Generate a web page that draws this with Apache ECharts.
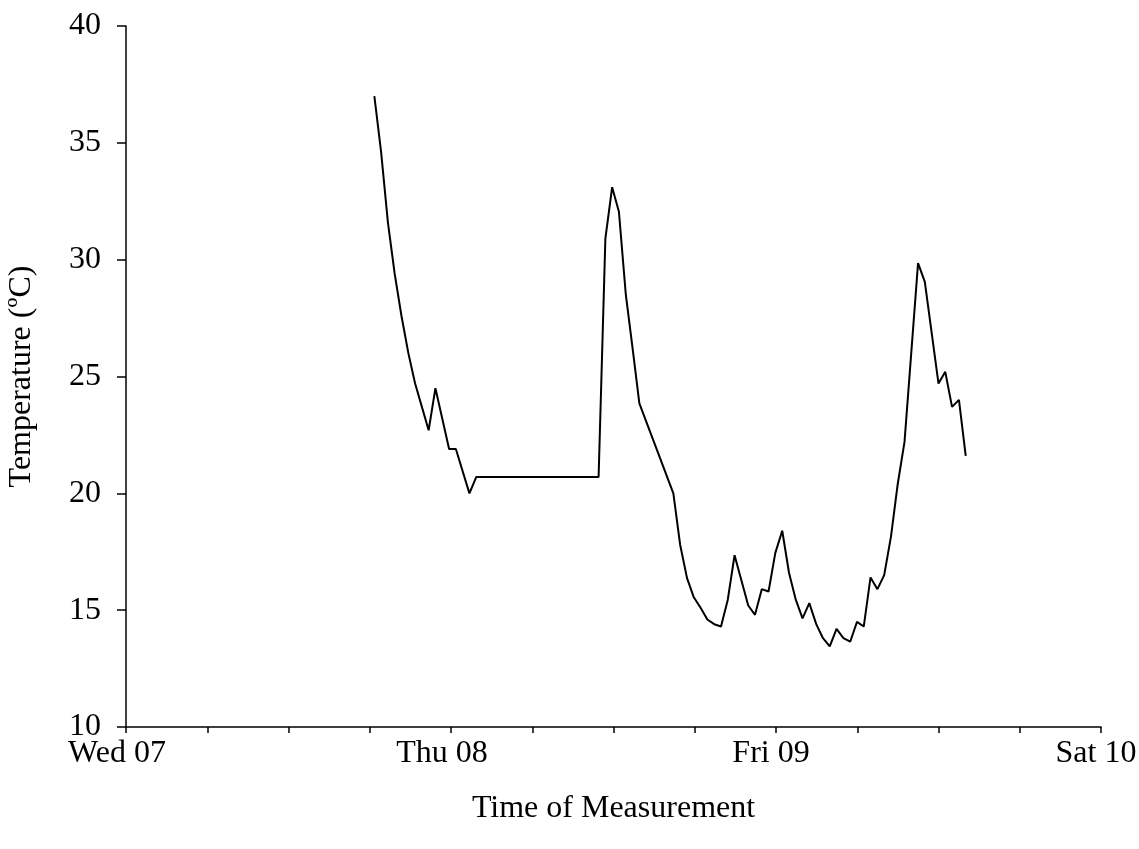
<!DOCTYPE html>
<html>
<head>
<meta charset="utf-8">
<script src="https://cdn.jsdelivr.net/npm/echarts@6/dist/echarts.min.js"></script>
<style>
  html, body { margin: 0; padding: 0; background: #ffffff; }
  #chart { width: 1139px; height: 849px; }
</style>
</head>
<body>
<div id="chart"></div>
<script>
// Measurement times, in hours counted from Wed 07 00:00
const hours = [
  18.34, 18.84, 19.34, 19.84, 20.34, 20.85, 21.35, 21.85, 22.35, 22.85,
  23.86, 24.36, 25.36, 25.87, 34.90,
  35.40, 35.90, 36.40, 36.91, 37.41, 37.91, 40.42,
  40.92, 41.43, 41.93, 42.43, 42.93, 43.44, 43.94, 44.44, 44.94,
  45.95, 46.45, 46.95, 47.45, 47.95, 48.46, 48.96, 49.46, 49.96,
  50.46, 50.97, 51.47, 51.97, 52.47, 52.98, 53.48, 53.98, 54.48,
  54.98, 55.49, 55.99, 56.49, 56.99, 57.49, 58.49, 58.99,
  60.00, 60.50, 61.00, 61.51, 62.01
];

// Temperature readings (ºC) at those times
const temperatures = [
  37.0, 34.6, 31.6, 29.4, 27.6, 26.0, 24.7, 23.7, 22.7, 24.5,
  21.9, 21.9, 20.0, 20.7, 20.7,
  30.9, 33.1, 32.05, 28.5, 26.2, 23.85, 20.0,
  17.8, 16.37, 15.55, 15.1, 14.6, 14.4, 14.3, 15.45, 17.35,
  15.2, 14.8, 15.9, 15.8, 17.45, 18.4, 16.6, 15.45, 14.65,
  15.3, 14.4, 13.8, 13.45, 14.2, 13.8, 13.65, 14.5, 14.3,
  16.4, 15.9, 16.5, 18.15, 20.4, 22.2, 29.85, 29.05,
  24.7, 25.2, 23.7, 24.0, 21.6
];

// Day labels placed at each midnight tick
const dayLabels = ['Wed 07', 'Thu 08', 'Fri 09', 'Sat 10'];
const tempTicks = [10, 15, 20, 25, 30, 35, 40];

const seriesData = hours.map((h, i) => [h, temperatures[i]]);

const FONT = '"Liberation Serif", "Times New Roman", serif';
const FONT_SIZE = 32;
const axisLineStyle = { color: '#000', width: 1.5 };

// Day labels sit a little left of their midnight tick
const dayRich = {
  d0: { padding: [0, 18, 0, 0] },
  d1: { padding: [0, 18, 0, 0] },
  d2: { padding: [0, 10, 0, 0] },
  d3: { padding: [0, 10, 0, 0] }
};
Object.keys(dayRich).forEach(k => Object.assign(dayRich[k], {
  fontFamily: FONT, fontSize: FONT_SIZE, color: '#000'
}));

const chart = echarts.init(document.getElementById('chart'), null, { renderer: 'canvas' });
chart.setOption({
  backgroundColor: '#ffffff',
  animation: false,
  grid: {
    left: 126, right: 38, top: 26, bottom: 122,
    containLabel: false,
    outerBoundsMode: 'none'
  },
  xAxis: {
    type: 'value',
    min: 0,
    max: 72,
    interval: 24,
    name: 'Time of Measurement',
    nameLocation: 'middle',
    nameGap: 66,
    nameTextStyle: { fontFamily: FONT, fontSize: FONT_SIZE, color: '#000' },
    axisLine: { show: true, lineStyle: axisLineStyle },
    axisTick: { show: true, inside: false, length: 6, lineStyle: axisLineStyle },
    minorTick: { show: true, splitNumber: 4, length: 6, lineStyle: axisLineStyle },
    splitLine: { show: false },
    minorSplitLine: { show: false },
    axisLabel: {
      margin: 11,
      fontFamily: FONT,
      fontSize: FONT_SIZE,
      color: '#000',
      rich: dayRich,
      formatter: v => {
        const i = Math.round(v / 24);
        return dayLabels[i] ? '{d' + i + '|' + dayLabels[i] + '}' : '';
      }
    }
  },
  yAxis: {
    type: 'value',
    min: tempTicks[0],
    max: tempTicks[tempTicks.length - 1],
    interval: 5,
    name: 'Temperature (ºC)',
    nameLocation: 'middle',
    nameGap: 88,
    nameRotate: 90,
    nameTextStyle: { fontFamily: FONT, fontSize: FONT_SIZE, color: '#000' },
    axisLine: { show: true, lineStyle: axisLineStyle },
    axisTick: { show: true, inside: false, length: 9, lineStyle: axisLineStyle },
    splitLine: { show: false },
    axisLabel: {
      margin: 25,
      fontFamily: FONT,
      fontSize: FONT_SIZE,
      color: '#000'
    }
  },
  series: [{
    type: 'line',
    data: seriesData,
    showSymbol: false,
    symbol: 'none',
    lineStyle: { color: '#000', width: 2 },
    emphasis: { disabled: true }
  }]
});
</script>
</body>
</html>
